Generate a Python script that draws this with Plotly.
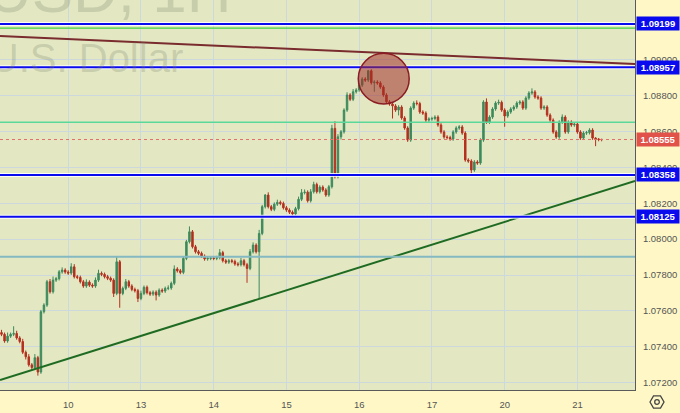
import plotly.graph_objects as go

# ---------------- data ----------------
day_labels = ["10", "13", "14", "15", "16", "17", "20", "21"]
day_start_index = [0, 24, 48, 72, 96, 120, 144, 168]   # hourly bar index of each day start

first_index = -22
first_open = 1.07480
closes = [
    1.07470, 1.07433, 1.07460, 1.07470, 1.07475, 1.07450, 1.07430, 1.07370, 1.07345, 1.07300,
    1.07285, 1.07340, 1.07260, 1.07596, 1.07633, 1.07763, 1.07707, 1.07772, 1.07780, 1.07818,
    1.07828, 1.07817, 1.07811, 1.07846, 1.07791, 1.07787, 1.07763, 1.07739, 1.07761, 1.07744,
    1.07739, 1.07772, 1.07810, 1.07804, 1.07791, 1.07782, 1.07772, 1.07698, 1.07874, 1.07698,
    1.07726, 1.07763, 1.07739, 1.07720, 1.07713, 1.07670, 1.07698, 1.07732, 1.07702, 1.07694,
    1.07705, 1.07689, 1.07716, 1.07711, 1.07726, 1.07728, 1.07754, 1.07834, 1.07824, 1.07815,
    1.07893, 1.07986, 1.08041, 1.07958, 1.07930, 1.07921, 1.07905, 1.07890, 1.07893, 1.07895,
    1.07893, 1.07897, 1.07925, 1.07880, 1.07872, 1.07880, 1.07876, 1.07862, 1.07858, 1.07880,
    1.07858, 1.07837, 1.07930, 1.07967, 1.07930, 1.08032, 1.08181, 1.08246, 1.08181, 1.08166,
    1.08195, 1.08205, 1.08199, 1.08175, 1.08162, 1.08150, 1.08140, 1.08170, 1.08222, 1.08259,
    1.08262, 1.08214, 1.08264, 1.08305, 1.08264, 1.08290, 1.08274, 1.08246, 1.08292, 1.08617,
    1.08348, 1.08570, 1.08598, 1.08719, 1.08803, 1.08779, 1.08821, 1.08831, 1.08858, 1.08892,
    1.08886, 1.08938, 1.08871, 1.08875, 1.08870, 1.08847, 1.08803, 1.08765, 1.08753, 1.08742,
    1.08719, 1.08736, 1.08675, 1.08619, 1.08552, 1.08730, 1.08758, 1.08755, 1.08708, 1.08702,
    1.08663, 1.08669, 1.08672, 1.08680, 1.08636, 1.08597, 1.08569, 1.08566, 1.08558, 1.08597,
    1.08619, 1.08625, 1.08591, 1.08441, 1.08435, 1.08385, 1.08430, 1.08424, 1.08552, 1.08764,
    1.08652, 1.08680, 1.08725, 1.08758, 1.08762, 1.08719, 1.08686, 1.08708, 1.08725, 1.08736,
    1.08758, 1.08764, 1.08730, 1.08786, 1.08814, 1.08820, 1.08792, 1.08786, 1.08730, 1.08736,
    1.08691, 1.08663, 1.08597, 1.08569, 1.08652, 1.08680, 1.08597, 1.08652, 1.08636, 1.08641,
    1.08597, 1.08563, 1.08591, 1.08593, 1.08608, 1.08563, 1.08558, 1.08555, 1.08555,
]
upper_wick_pips = [
    1.5, 1, 2, 1, 4, 1.5, 1, 1.5, 1, 1.5,
    1, 2, 1, 1, 1, 1, 1.5, 2, 1, 1,
    1.5, 1, 1, 2, 1.5, 1, 1, 1, 1.5, 1,
    1, 1.5, 2, 1, 1, 1, 1, 1, 3, 1,
    1, 1.5, 1, 1, 1, 1, 1.5, 1, 1, 1,
    1, 1, 1, 1, 1, 1.5, 1, 2, 1, 1,
    1, 1, 3, 1, 1, 1, 1, 1, 1, 1,
    1, 1, 2, 1, 1, 1, 1, 1, 1, 1.5,
    1, 1, 1.5, 1.5, 1, 2, 1, 0.5, 1.5, 1,
    1, 1.5, 1, 1, 1, 1, 1, 1, 1.5, 2,
    1.5, 1, 1.5, 1.5, 1, 1, 1, 1, 1, 2,
    4, 1.5, 1, 1, 1.5, 1, 1.5, 1, 1, 1,
    1, 0.5, 1, 1, 1, 1, 1, 1, 1, 1,
    1, 1, 1, 1, 1, 1, 1, 1.5, 1, 1,
    1, 1, 1, 1, 1, 1, 1, 1, 1, 1,
    1, 1, 1, 1, 1, 1, 1, 1, 1, 1,
    2, 1, 1, 1, 1.5, 1, 1, 1, 1, 1,
    1, 1, 1, 1, 1, 2, 1, 1, 1, 1,
    1, 1, 1, 1, 1, 1.5, 1, 1, 1, 1,
    1, 1, 1, 1, 1, 1, 0.5, 0.5, 0.5,
]
lower_wick_pips = [
    1, 1, 1, 1, 1, 1, 1, 1, 1.5, 1,
    1.5, 1, 2, 1, 1, 1, 1, 1, 1, 1,
    1, 1, 1, 1, 1, 1, 1, 1, 1, 1,
    1, 1, 1, 1, 1, 1, 1, 2, 1, 8,
    1, 1, 1, 1, 1, 2, 1, 1, 1, 1,
    1, 3, 1, 1, 1, 1, 1, 1, 1, 1,
    1, 1, 1, 1, 1, 1, 1, 1, 1, 1,
    1, 1, 1, 1, 1, 1, 1, 1, 1, 1,
    1, 8, 1, 1, 1, 26, 1, 1, 1, 1,
    1, 1, 1, 1, 1, 1, 1, 1, 1, 1,
    1, 1, 1, 1, 1, 1, 1, 1, 1, 1,
    1, 1, 1.5, 1, 1, 1, 1, 1, 1, 1,
    1, 1, 1, 5, 1, 1, 1, 1, 1, 7,
    1, 3, 1, 1, 1, 1, 1, 1, 1, 1,
    1, 1, 1, 1, 1, 1, 1, 1, 1, 1,
    1, 1, 1, 1, 1, 2, 1, 1, 1, 1,
    1, 1, 1, 1, 1, 1, 6, 1, 1, 1,
    1, 1, 1, 1, 1, 1, 1, 1, 1, 1,
    1, 1, 1, 1, 1, 1, 1, 1, 1, 1,
    1, 1, 1, 1, 1, 1, 4, 1, 1,
]

blue_levels = [1.09199, 1.08957, 1.08358, 1.08125]
green_level = 1.09175
mint_level = 1.08651
teal_level = 1.07902
last_price = 1.08555

brown_trend_x = [-22.5, 187.0]
brown_trend_y = [1.09131, 1.08975]
green_trend_x = [-22.5, 187.0]
green_trend_y = [1.07215, 1.08324]

circle_x = [95.7, 112.5]
circle_y = [1.08753, 1.09035]

x_range = [-22.5, 187.0]
y_range = [1.07160, 1.09332]

watermark_symbol = "EURUSD, 1H"
watermark_name = "Euro / U.S. Dollar"

# ---------------- build ----------------
PIP = 0.0001
x = list(range(first_index, first_index + len(closes)))
opens = [first_open] + closes[:-1]
highs = [max(o, c) + u * PIP for o, c, u in zip(opens, closes, upper_wick_pips)]
lows = [min(o, c) - d * PIP for o, c, d in zip(opens, closes, lower_wick_pips)]

FONT = "Liberation Sans, Arial, sans-serif"
W, H = 680, 413
ML, MR, MT, MB = 0, 45, 0, 23
PW, PH = W - ML - MR, H - MT - MB


def px(xp):
    return (xp - ML) / PW


def py(yp):
    return 1 - (yp - MT) / PH


fig = go.Figure()

fig.add_trace(go.Candlestick(
    x=x, open=opens, high=highs, low=lows, close=closes,
    increasing=dict(line=dict(color="#3d8a5c", width=1), fillcolor="#3d8a5c"),
    decreasing=dict(line=dict(color="#b5301f", width=1), fillcolor="#b5301f"),
    whiskerwidth=0, showlegend=False, hoverinfo="skip",
))

fig.add_trace(go.Scatter(x=brown_trend_x, y=brown_trend_y, mode="lines",
                         line=dict(color="#7a2b2e", width=2), showlegend=False, hoverinfo="skip"))
fig.add_trace(go.Scatter(x=green_trend_x, y=green_trend_y, mode="lines",
                         line=dict(color="#1f6b22", width=2), showlegend=False, hoverinfo="skip"))

shapes = []
shapes.append(dict(type="line", xref="paper", x0=0, x1=1, yref="y", y0=green_level, y1=green_level,
                   line=dict(color="#3fd43f", width=1.2)))
shapes.append(dict(type="line", xref="paper", x0=0, x1=1, yref="y", y0=mint_level, y1=mint_level,
                   line=dict(color="#5ad89a", width=1.5)))
shapes.append(dict(type="line", xref="paper", x0=0, x1=1, yref="y", y0=teal_level, y1=teal_level,
                   line=dict(color="#84b9c2", width=2)))
shapes.append(dict(type="line", xref="paper", x0=0, x1=1, yref="y", y0=last_price, y1=last_price,
                   line=dict(color="#e0706a", width=1, dash="dot")))
for lv in blue_levels:
    shapes.append(dict(type="line", xref="paper", x0=0, x1=1, yref="y", y0=lv, y1=lv,
                       line=dict(color="rgba(255,255,255,0.85)", width=4)))
    shapes.append(dict(type="line", xref="paper", x0=0, x1=1, yref="y", y0=lv, y1=lv,
                       line=dict(color="#0a0aee", width=2)))
shapes.append(dict(type="circle", xref="x", yref="y",
                   x0=circle_x[0], x1=circle_x[1], y0=circle_y[0], y1=circle_y[1],
                   fillcolor="rgba(160,45,40,0.55)", line=dict(color="#8b1c24", width=1.5)))
cx, cy, r = 657, 402, 7
hexpath = "M {} {} L {} {} L {} {} L {} {} L {} {} L {} {} Z".format(
    px(cx - r), py(cy), px(cx - r / 2), py(cy - r * 0.87), px(cx + r / 2), py(cy - r * 0.87),
    px(cx + r), py(cy), px(cx + r / 2), py(cy + r * 0.87), px(cx - r / 2), py(cy + r * 0.87))
shapes.append(dict(type="path", xref="paper", yref="paper", path=hexpath,
                   line=dict(color="#444", width=1.3)))
shapes.append(dict(type="circle", xref="paper", yref="paper",
                   x0=px(cx - 2.3), x1=px(cx + 2.3), y0=py(cy + 2.3), y1=py(cy - 2.3),
                   line=dict(color="#444", width=1.3)))

WM_COLOR = "rgba(120,128,100,0.26)"
annotations = []
annotations.append(dict(text=watermark_symbol, xref="paper", yref="paper", x=px(234), y=py(27),
                        xanchor="right", yanchor="bottom", showarrow=False,
                        font=dict(family=FONT, size=62, color=WM_COLOR)))
annotations.append(dict(text=watermark_name, xref="paper", yref="paper", x=px(185), y=py(58),
                        xanchor="right", yanchor="middle", showarrow=False,
                        font=dict(family=FONT, size=40, color=WM_COLOR)))
for lv in blue_levels:
    annotations.append(dict(text="<b>{:.5f}</b>".format(lv), xref="paper", x=1, xanchor="left", xshift=1,
                            yref="y", y=lv, yanchor="middle", showarrow=False, bgcolor="#0a0aee",
                            borderpad=1, width=40, align="center",
                            font=dict(family=FONT, size=9.5, color="white")))
annotations.append(dict(text="<b>{:.5f}</b>".format(last_price), xref="paper", x=1, xanchor="left", xshift=1,
                        yref="y", y=last_price, yanchor="middle", showarrow=False, bgcolor="#e0524a",
                        borderpad=1, width=40, align="center",
                        font=dict(family=FONT, size=9.5, color="white")))

fig.update_layout(
    width=W, height=H,
    margin=dict(l=ML, r=MR, t=MT, b=MB, pad=0),
    paper_bgcolor="#fff8c6",
    plot_bgcolor="#e3e8c3",
    font=dict(family=FONT, size=9, color="#555555"),
    showlegend=False,
    shapes=shapes,
    annotations=annotations,
    xaxis=dict(
        range=x_range, rangeslider=dict(visible=False),
        tickmode="array", tickvals=day_start_index, ticktext=day_labels,
        showgrid=True, gridcolor="#cdd8dc", gridwidth=1,
        showline=True, linecolor="#5a5a5a", linewidth=1,
        ticks="", zeroline=False, ticklabelstandoff=6,
        tickfont=dict(family=FONT, size=9.5, color="#555555"),
    ),
    yaxis=dict(
        range=y_range, side="right",
        tick0=1.072, dtick=0.002, tickformat=".5f",
        showgrid=True, gridcolor="#cdd8dc", gridwidth=1,
        showline=True, linecolor="#5a5a5a", linewidth=1,
        ticks="", zeroline=False, ticklabelstandoff=5,
        tickfont=dict(family=FONT, size=9.5, color="#555555"),
    ),
)

fig.write_html("out.html", config={"displayModeBar": False, "staticPlot": True},
               post_script="document.body.style.margin='0';document.body.style.overflow='hidden';")
